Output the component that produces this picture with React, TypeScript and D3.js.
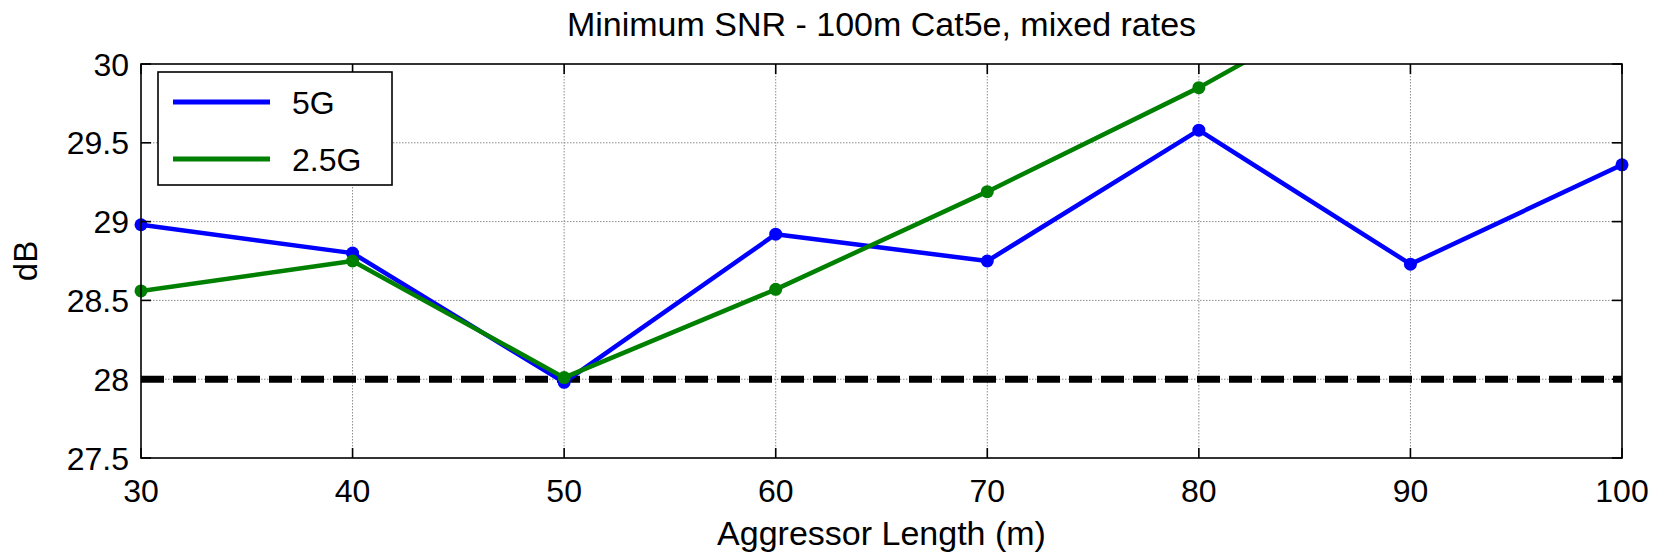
import React, { useEffect, useRef } from "react";
import * as d3 from "d3";

const lengths = [30, 40, 50, 60, 70, 80, 90, 100];
const snr5G = [28.98, 28.8, 27.98, 28.92, 28.75, 29.58, 28.73, 29.36];
const snr25G = [28.56, 28.75, 28.01, 28.57, 29.19, 29.85, 30.6, 31.3];
const seriesNames = ["5G", "2.5G"];
const seriesColors = ["#0000ff", "#008000"];
const xTicks = [30, 40, 50, 60, 70, 80, 90, 100];
const yTicks = [27.5, 28, 28.5, 29, 29.5, 30];
const limit = 28;

const W = 1662;
const H = 555;

function SnrChart() {
  const ref = useRef<SVGSVGElement>(null);

  useEffect(() => {
    const svg = d3.select(ref.current);
    svg.selectAll("*").remove();

    const margin = { top: 64, right: 40, bottom: 97, left: 141 };
    const x = d3.scaleLinear().domain([30, 100]).range([margin.left, W - margin.right]);
    const y = d3.scaleLinear().domain([27.5, 30]).range([H - margin.bottom, margin.top]);
    const font = "'Liberation Sans', Arial, sans-serif";

    svg.append("rect").attr("width", W).attr("height", H).attr("fill", "#fff");

    svg.append("defs").append("clipPath").attr("id", "plot-clip")
      .append("rect")
      .attr("x", x(30)).attr("y", y(30))
      .attr("width", x(100) - x(30)).attr("height", y(27.5) - y(30));

    // grid
    const grid = svg.append("g")
      .attr("stroke", "#8c8c8c")
      .attr("stroke-width", 1)
      .attr("stroke-dasharray", "1.5,1.5");
    grid.selectAll("line.gx").data(xTicks.slice(1, -1)).join("line")
      .attr("x1", d => x(d)).attr("x2", d => x(d))
      .attr("y1", y(30)).attr("y2", y(27.5));
    grid.selectAll("line.gy").data(yTicks.slice(1, -1)).join("line")
      .attr("x1", x(30)).attr("x2", x(100))
      .attr("y1", d => y(d)).attr("y2", d => y(d));

    // limit line
    svg.append("line")
      .attr("x1", x(30)).attr("x2", x(100))
      .attr("y1", y(limit)).attr("y2", y(limit))
      .attr("stroke", "#000").attr("stroke-width", 7)
      .attr("stroke-dasharray", "23,9");

    const plot = svg.append("g").attr("clip-path", "url(#plot-clip)");
    const line = d3.line<number>().x((d, i) => x(lengths[i])).y(d => y(d));

    [snr5G, snr25G].forEach((vals, s) => {
      plot.append("path")
        .datum(vals)
        .attr("fill", "none")
        .attr("stroke", seriesColors[s])
        .attr("stroke-width", 4.5)
        .attr("stroke-linejoin", "round")
        .attr("d", line);
    });
    [snr5G, snr25G].forEach((vals, s) => {
      svg.append("g").selectAll("circle")
        .data(vals.map((v, i) => ({ v, i })).filter(d => d.v <= 30))
        .join("circle")
        .attr("cx", d => x(lengths[d.i]))
        .attr("cy", d => y(d.v))
        .attr("r", 6.5)
        .attr("fill", seriesColors[s]);
    });

    // axes box and inner ticks
    const ax = svg.append("g").attr("stroke", "#000").attr("stroke-width", 1.6);
    ax.append("rect")
      .attr("x", x(30)).attr("y", y(30))
      .attr("width", x(100) - x(30)).attr("height", y(27.5) - y(30))
      .attr("fill", "none");
    const tl = 10;
    xTicks.forEach(t => {
      ax.append("line").attr("x1", x(t)).attr("x2", x(t)).attr("y1", y(27.5)).attr("y2", y(27.5) - tl);
      ax.append("line").attr("x1", x(t)).attr("x2", x(t)).attr("y1", y(30)).attr("y2", y(30) + tl);
    });
    yTicks.forEach(t => {
      ax.append("line").attr("x1", x(30)).attr("x2", x(30) + tl).attr("y1", y(t)).attr("y2", y(t));
      ax.append("line").attr("x1", x(100)).attr("x2", x(100) - tl).attr("y1", y(t)).attr("y2", y(t));
    });

    // tick labels
    svg.append("g").selectAll("text").data(xTicks).join("text")
      .attr("x", d => x(d)).attr("y", y(27.5) + 44)
      .attr("text-anchor", "middle")
      .attr("font-family", font).attr("font-size", 32)
      .text(d => d);
    svg.append("g").selectAll("text").data(yTicks).join("text")
      .attr("x", x(30) - 12).attr("y", d => y(d))
      .attr("dy", "0.36em")
      .attr("text-anchor", "end")
      .attr("font-family", font).attr("font-size", 32)
      .text(d => d);

    // titles
    svg.append("text")
      .attr("x", (x(30) + x(100)) / 2).attr("y", 36)
      .attr("text-anchor", "middle")
      .attr("font-family", font).attr("font-size", 34)
      .text("Minimum SNR - 100m Cat5e, mixed rates");
    svg.append("text")
      .attr("x", (x(30) + x(100)) / 2).attr("y", 545)
      .attr("text-anchor", "middle")
      .attr("font-family", font).attr("font-size", 34)
      .text("Aggressor Length (m)");
    svg.append("text")
      .attr("transform", `translate(37,${(y(27.5) + y(30)) / 2}) rotate(-90)`)
      .attr("text-anchor", "middle")
      .attr("font-family", font).attr("font-size", 33)
      .text("dB");

    // legend
    const lg = svg.append("g").attr("transform", "translate(158,72)");
    lg.append("rect").attr("width", 234).attr("height", 113)
      .attr("fill", "#fff").attr("stroke", "#000").attr("stroke-width", 1.6);
    seriesNames.forEach((name, i) => {
      const ly = 30 + i * 57;
      lg.append("line").attr("x1", 15).attr("x2", 112).attr("y1", ly).attr("y2", ly)
        .attr("stroke", seriesColors[i]).attr("stroke-width", 5);
      lg.append("text").attr("x", 134).attr("y", ly).attr("dy", "0.36em")
        .attr("font-family", font).attr("font-size", 32)
        .text(name);
    });
  }, []);

  return <svg ref={ref} width={W} height={H} style={{ display: "block" }} />;
}

export default function App() {
  return (
    <div style={{ position: "fixed", left: 0, top: 0, width: W, height: H, overflow: "hidden" }}>
      <SnrChart />
    </div>
  );
}
